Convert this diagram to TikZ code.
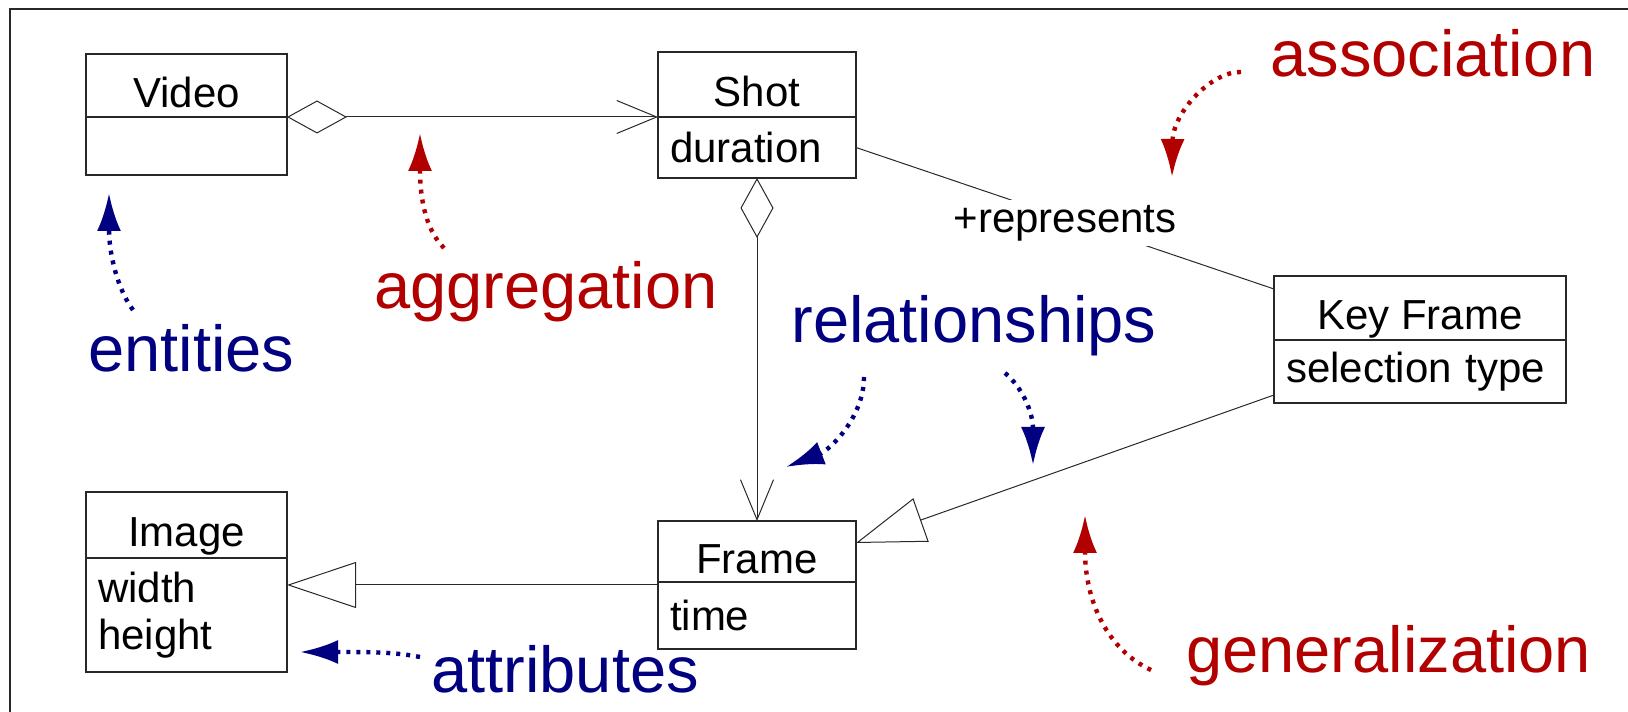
\documentclass[tikz,border=0pt]{standalone}
\usepackage{fontspec}
\setmainfont{Liberation Sans}
\usetikzlibrary{positioning,arrows.meta}
\definecolor{notered}{RGB}{178,0,0}
\definecolor{noteblue}{RGB}{0,0,128}
\definecolor{umlline}{RGB}{40,40,40}
\tikzset{
  classtitle/.style={draw=umlline, line width=0.75pt, outer sep=0pt, inner sep=0pt,
    anchor=north west, text height=22pt, text depth=0pt, font=\fontsize{21}{23.5}\selectfont},
  classattr/.style={draw=umlline, line width=0.75pt, outer sep=0pt, inner xsep=6pt,
    inner ysep=0pt, align=left, font=\fontsize{21}{23.5}\selectfont},
  link/.style={draw=umlline, line width=0.5pt},
  aggr/.style={link, {Diamond[open,length=30pt,width=16.5pt]}-{Straight Barb[length=20pt,width=16.5pt]}},
  gener/.style={link, -{Triangle[open,length=34.5pt,width=23pt]}},
  note/.style={font=\fontsize{32.5}{36}\selectfont, anchor=base west, inner sep=0pt},
  notearrow/.style={line width=2.2pt, dash pattern=on 2pt off 3pt,
    -{Latex[length=19pt,width=12pt]}},
}
\begin{document}
\begin{tikzpicture}[x=0.5pt, y=0.5pt]
  \useasboundingbox (0,0) rectangle (1628,712);
  \draw[umlline, line width=1pt] (10,0) -- (10,702.5) -- (1628,702.5);

  % classes
  \node[classtitle, minimum width=100.5pt, minimum height=31.5pt] (video) at (86,658) {Video};
  \node[classattr, text width=88.5pt, minimum height=29pt, below=0pt of video] (videoattr) {};
  \node[classtitle, minimum width=99pt, minimum height=32.5pt] (shot) at (658,660) {Shot};
  \node[classattr, text width=87pt, minimum height=30.5pt, below=0pt of shot] (shotattr) {duration};
  \node[classtitle, minimum width=146pt, minimum height=32pt] (keyframe) at (1274,436) {Key Frame};
  \node[classattr, text width=134pt, minimum height=31.5pt, below=0pt of keyframe] (keyattr) {selection type};
  \node[classtitle, minimum width=100.5pt, minimum height=33pt] (image) at (86,220) {Image};
  \node[classattr, text width=88.5pt, minimum height=57pt, below=0pt of image] (imageattr) {width\\height};
  \node[classtitle, minimum width=99pt, minimum height=30.5pt] (frame) at (658,191) {Frame};
  \node[classattr, text width=87pt, minimum height=33.5pt, below=0pt of frame] (frameattr) {time};

  % relations
  \draw[aggr] (video.south east) -- (shot.south west);
  \draw[aggr] (shotattr.south) -- (frame.north);
  \draw[link] (shotattr.east) -- node[fill=white, inner xsep=0pt, inner ysep=2.5pt, yshift=-2.5pt,
    font=\fontsize{21}{23.5}\selectfont] (represents) {+represents} ([yshift=-6.5pt]keyframe.north west);
  \draw[gener] ([yshift=4pt]keyattr.south west) -- ([yshift=-11pt]frame.north east);
  \draw[gener] ([yshift=-1.5pt]frameattr.north west) -- ([yshift=-1.5pt]frameattr.north west -| imageattr.east);

  % notes
  \node[note, text=notered] (association) at (1270,635) {association};
  \node[note, text=notered] (aggregation) at (374,403) {aggregation};
  \node[note, text=noteblue] (entities) at (88,340) {entities};
  \node[note, text=noteblue] (relationships) at (791,369) {relationships};
  \node[note, text=noteblue] (attributes) at (431,19) {attributes};
  \node[note, text=notered] (generalization) at (1186,39) {generalization};

  \coordinate (entitiestail) at (133,402);
  \coordinate (entitiestip) at (109,519);
  \coordinate (aggrtail) at (444,464);
  \coordinate (aggrtip) at (420,579);
  \coordinate (assoctail) at (1241,640);
  \coordinate (assoctip) at (1172,535);
  \coordinate (relltail) at (864,335);
  \coordinate (rellftip) at (786,245);
  \coordinate (relrtail) at (1005,339);
  \coordinate (relrtip) at (1033,247);
  \coordinate (genertail) at (1151,42);
  \coordinate (genertip) at (1085,197);
  \coordinate (attrtail) at (420,55);
  \coordinate (attrtip) at (300,60);

  \draw[notearrow, noteblue] (entitiestail) .. controls (118,422) and (109,457) .. (entitiestip);
  \draw[notearrow, notered] (aggrtail) .. controls (428,480) and (420,507) .. (aggrtip);
  \draw[notearrow, notered] (assoctail) .. controls (1212,641) and (1173,600) .. (assoctip);
  \draw[notearrow, noteblue] (relltail) .. controls (864,295) and (830,262) .. (rellftip);
  \draw[notearrow, noteblue] (relrtail) .. controls (1022,325) and (1033,300) .. (relrtip);
  \draw[notearrow, notered] (genertail) .. controls (1108,62) and (1085,110) .. (genertip);
  \draw[notearrow, noteblue] (attrtail) .. controls (395,60) and (370,60) .. (attrtip);
\end{tikzpicture}
\end{document}
